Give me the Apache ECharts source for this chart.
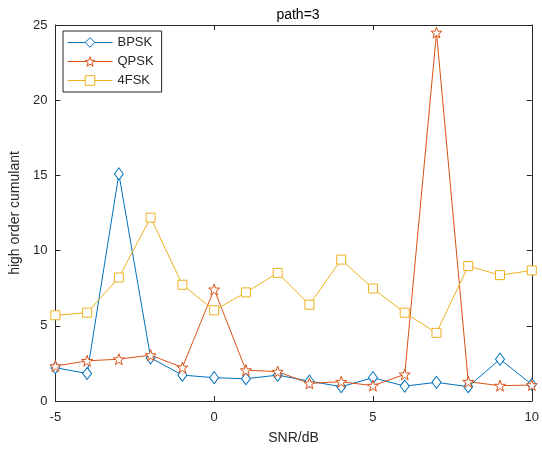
<!DOCTYPE html>
<html lang="en">
<head>
    <meta charset="UTF-8">
    <title>path=3</title>
    <style type="text/css">
        body{
            margin: 0px;
            padding: 0px;
            background: #fff;
        }
        #chart{
            width: 542px;
            height: 450px;
        }
    </style>
</head>
<body>
    <div id="chart"></div>
</body>
<script src="https://cdn.jsdelivr.net/npm/echarts@6/dist/echarts.min.js" type="text/javascript"></script>
<script type="text/javascript">
    // 数据
    var snr = [-5, -4, -3, -2, -1, 0, 1, 2, 3, 4, 5, 6, 7, 8, 9, 10];
    var bpsk = [2.21, 1.83, 15.1, 2.87, 1.72, 1.55, 1.48, 1.72, 1.32, 0.95, 1.55, 0.99, 1.24, 0.95, 2.78, 1.1];
    var qpsk = [2.32, 2.67, 2.78, 3.05, 2.23, 7.42, 2.05, 1.95, 1.17, 1.28, 1.02, 1.77, 24.5, 1.28, 1.02, 1.06];
    var fsk4 = [5.7, 5.87, 8.21, 12.19, 7.73, 6.03, 7.22, 8.52, 6.4, 9.4, 7.48, 5.87, 4.53, 8.97, 8.37, 8.68];
    var xTicks = [-5, 0, 5, 10];
    var yTicks = [0, 5, 10, 15, 20, 25];

    var font = 'Liberation Sans, Arial, sans-serif';
    var axisColor = '#262626';
    var star = 'path://M0,-10L2.35,-3.24L9.51,-3.09L3.8,1.24L5.88,8.09L0,4L-5.88,8.09L-3.8,1.24L-9.51,-3.09L-2.35,-3.24Z';

    function pairs(ys) {
        var out = [];
        for (var i = 0; i < snr.length; i++) {
            out.push([snr[i], ys[i]]);
        }
        return out;
    }

    function makeSeries(name, ys, color, symbol, size) {
        return {
            name: name,
            type: 'line',
            data: pairs(ys),
            symbol: symbol,
            symbolSize: size,
            showAllSymbol: true,
            lineStyle: {color: color, width: 1},
            itemStyle: {color: '#fff', borderColor: color, borderWidth: 1},
            emphasis: {disabled: true},
            z: 3
        };
    }

    function xAxisCfg(pos, show) {
        return {
            type: 'value', position: pos, min: xTicks[0], max: xTicks[xTicks.length - 1], interval: 5,
            axisLine: {show: true, onZero: false, lineStyle: {color: axisColor, width: 1}},
            axisTick: {show: true, inside: true, length: 5, lineStyle: {color: axisColor}},
            axisLabel: {show: show, color: axisColor, fontSize: 13, fontFamily: font, margin: 10},
            splitLine: {show: false}
        };
    }

    function yAxisCfg(pos, show) {
        return {
            type: 'value', position: pos, min: yTicks[0], max: yTicks[yTicks.length - 1], interval: 5,
            axisLine: {show: true, onZero: false, lineStyle: {color: axisColor, width: 1}},
            axisTick: {show: true, inside: true, length: 5, lineStyle: {color: axisColor}},
            axisLabel: {show: show, color: axisColor, fontSize: 13, fontFamily: font, margin: 8},
            splitLine: {show: false}
        };
    }

    var xb = xAxisCfg('bottom', true);
    xb.name = 'SNR/dB';
    xb.nameLocation = 'middle';
    xb.nameGap = 30;
    xb.nameTextStyle = {color: axisColor, fontSize: 14, fontFamily: font};
    var yl = yAxisCfg('left', true);
    yl.name = 'high order cumulant';
    yl.nameLocation = 'middle';
    yl.nameGap = 23;
    yl.nameTextStyle = {color: axisColor, fontSize: 14, fontFamily: font};

    var chart = echarts.init(document.getElementById('chart'));
    chart.setOption({
        animation: false,
        backgroundColor: '#fff',
        title: {
            text: 'path=3',
            left: 293,
            textAlign: 'center',
            top: 3,
            textStyle: {color: '#000', fontSize: 14, fontWeight: 'normal', fontFamily: font}
        },
        legend: {
            orient: 'vertical',
            left: 63,
            top: 31,
            padding: [5, 8, 5, 4],
            itemGap: 6,
            itemWidth: 45,
            itemHeight: 12,
            borderColor: axisColor,
            borderWidth: 1,
            backgroundColor: '#fff',
            lineStyle: {width: 1},
            itemStyle: {borderWidth: 1},
            textStyle: {color: axisColor, fontSize: 13, fontFamily: font},
            data: ['BPSK', 'QPSK', '4FSK']
        },
        grid: {left: 53, right: 9, top: 25, bottom: 47},
        xAxis: [xb, xAxisCfg('top', false)],
        yAxis: [yl, yAxisCfg('right', false)],
        series: [
            makeSeries('BPSK', bpsk, '#0072BD', 'diamond', [9, 12]),
            makeSeries('QPSK', qpsk, '#D95319', star, 11),
            makeSeries('4FSK', fsk4, '#EDB120', 'rect', 9)
        ]
    });
</script>
</html>
